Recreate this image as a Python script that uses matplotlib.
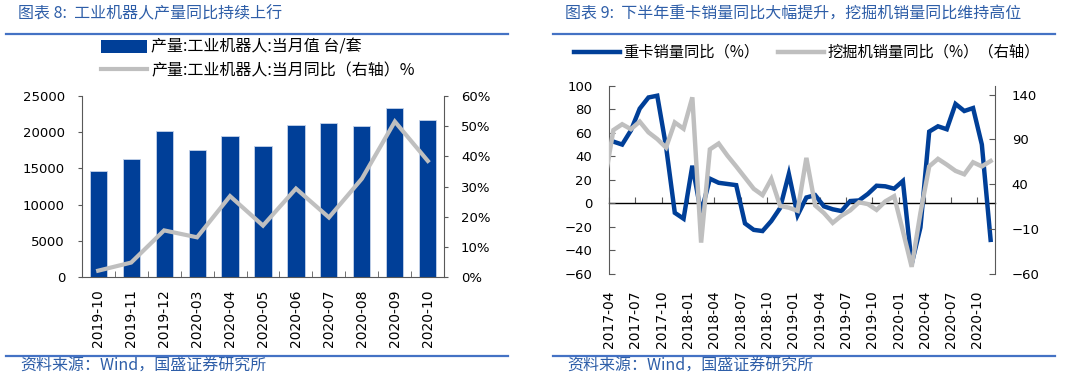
import numpy as np
import pandas as pd
import matplotlib
matplotlib.use('Agg')
import matplotlib.pyplot as plt
from matplotlib.lines import Line2D
from matplotlib.patches import Patch
from matplotlib.ticker import FuncFormatter

CJK = ['Noto Sans CJK SC', 'DejaVu Sans']
plt.rcParams['font.family'] = ['DejaVu Sans']

# ---- data: industrial robot output (left panel) ----------------------------
robot_months = ['2019-10', '2019-11', '2019-12', '2020-03', '2020-04', '2020-05',
                '2020-06', '2020-07', '2020-08', '2020-09', '2020-10']
robot_output = [14650, 16270, 20240, 17510, 19460, 18070, 21030, 21350, 20890, 23430, 21670]
robot_yoy = [2.0, 4.7, 15.4, 13.1, 26.8, 17.0, 29.3, 19.7, 32.6, 51.6, 38.5]

# ---- data: heavy truck / excavator yoy (right panel), 2017-03 .. 2020-11 ----
yoy_months = [str(p) for p in pd.period_range('2017-03', '2020-11', freq='M')]
truck_yoy = [53.5, 52.5, 50, 62, 80.5, 90, 91.5, 48.5, -8, -13,
             32, -8, 21, 17.5, 16.5, 15.5, -17, -22.5, -23.5, -15,
             -4, 25, -10, 5, 7, -2.5, -5, -6.5, 2, 2.5,
             8, 15, 14.5, 12.5, 19, -51.5, -20.5, 61, 65.5, 63,
             84.5, 78.5, 81, 50, -31]
excav_yoy = [43, 100.5, 107, 101.5, 110, 98, 90.5, 81, 109, 102,
             137, -25, 79, 85.5, 72, 60, 47.5, 35, 28, 46,
             16, 14, 10.5, 69.5, 16.5, 8, -3, 5, 11, 20,
             18, 11.5, 21, 26.7, -12, -52, 8, 60, 68.4, 62,
             55, 51.2, 64.6, 60, 66]

BLUE = '#003f98'
GRAY = '#bfbfbf'
AX = '#595959'
TXT_BLUE = '#2e5ea8'
W, H = 1080, 379

fig = plt.figure(figsize=(W/100, H/100), dpi=100)
def box(x0, y0, x1, y1):
    return [x0/W, 1 - y1/H, (x1 - x0)/W, (y1 - y0)/H]

# ---- left panel ------------------------------------------------------------
a = fig.add_axes(box(81.7, 96.3, 444.3, 276.7))
xl = np.arange(len(robot_months))
a.bar(xl, robot_output, width=0.52, color=BLUE, edgecolor='#c5d3ea', lw=0.6, zorder=2)
a.set_xlim(-0.5, len(xl) - 0.5)
a.set_ylim(0, 25000)
a.set_yticks(range(0, 25001, 5000))
a.set_xticks(xl)
a.set_xticklabels(robot_months, rotation=90, fontsize=10)
a.set_xticks(xl[:-1] + 0.5, minor=True)
a.tick_params(axis='x', which='major', length=0, pad=9)
a.tick_params(axis='x', which='minor', direction='in', length=4, color=AX)
a.tick_params(axis='y', direction='out', length=3, color=AX, labelsize=9.5, pad=9)
for s in ('top', 'right'):
    a.spines[s].set_visible(False)
for s in ('left', 'bottom'):
    a.spines[s].set_color(AX)
b = a.twinx()
b.plot(xl, np.array(robot_yoy)/100, color=GRAY, lw=3, solid_joinstyle='miter', zorder=3)
b.set_ylim(0, 0.6)
b.set_yticks(np.arange(0, 0.61, 0.1))
b.yaxis.set_major_formatter(FuncFormatter(lambda v, p: f'{v*100:.0f}%'))
b.tick_params(axis='y', direction='out', length=3, color=AX, labelsize=9.5, pad=9)
for s in ('top', 'left', 'bottom'):
    b.spines[s].set_visible(False)
b.spines['right'].set_color(AX)

fig.legend(handles=[Patch(facecolor=BLUE, edgecolor='none'),
                    Line2D([], [], color=GRAY, lw=3)],
           labels=['产量:工业机器人:当月值 台/套', '产量:工业机器人:当月同比（右轴）%'],
           loc='upper left', bbox_to_anchor=(101/W, 1 - 39/H), frameon=False,
           prop={'family': CJK, 'size': 11.5}, handlelength=2.9, handleheight=0.85,
           handletextpad=0.25, labelspacing=0.4, borderpad=0, borderaxespad=0)

# ---- right panel -----------------------------------------------------------
c = fig.add_axes(box(609, 85.7, 995, 274))
xr = np.arange(len(yoy_months))
c.plot(xr, truck_yoy, color=BLUE, lw=3.2, solid_joinstyle='miter')
c.set_xlim(0.5, len(xr) - 0.5)
c.set_ylim(-60, 100)
c.set_yticks(range(-60, 101, 20))
tick_pos = xr[1::3] - 0.5
c.set_xticks(tick_pos)
c.set_xticklabels(yoy_months[1::3], rotation=90, fontsize=10)
c.tick_params(axis='x', length=0, pad=12)
c.tick_params(axis='y', direction='in', length=4, color=AX, labelsize=9.5, pad=12)
for s in ('top', 'right', 'bottom'):
    c.spines[s].set_visible(False)
c.spines['left'].set_color(AX)
zero = c.secondary_xaxis((0 - c.get_ylim()[0]) / (c.get_ylim()[1] - c.get_ylim()[0]))
zero.set_xticks(tick_pos)
zero.tick_params(direction='in', length=4, color=AX, labelbottom=False)
zero.spines['bottom'].set_color('black')
zero.spines['bottom'].set_linewidth(1)
d = c.twinx()
d.plot(xr, excav_yoy, color=GRAY, lw=3.2, solid_joinstyle='miter')
d.set_ylim(-60, 150)
d.set_yticks(range(-60, 141, 50))
d.tick_params(axis='y', direction='in', length=4, color=AX, labelsize=9.5, pad=12)
for s in ('top', 'left', 'bottom'):
    d.spines[s].set_visible(False)
d.spines['right'].set_color(AX)

fig.legend(handles=[Line2D([], [], color=BLUE, lw=3.2), Line2D([], [], color=GRAY, lw=3.2)],
           labels=['重卡销量同比（%）', '挖掘机销量同比（%）（右轴）'],
           loc='upper left', bbox_to_anchor=(574/W, 1 - 44/H), ncol=2, frameon=False,
           prop={'family': CJK, 'size': 11}, handlelength=3.0, handletextpad=0.25,
           columnspacing=1.2, borderpad=0, borderaxespad=0)

# ---- titles, rules, sources ------------------------------------------------
for x0, x1, tx, title in ((6, 508, 18, '图表 8:  工业机器人产量同比持续上行'),
                          (553, 1055, 565, '图表 9:  下半年重卡销量同比大幅提升，挖掘机销量同比维持高位')):
    fig.text(tx/W, 1 - 14/H, title, color=TXT_BLUE, fontsize=11.5, family=CJK,
             va='center', ha='left')
    for yy in (33.5, 356):
        fig.add_artist(Line2D([x0/W, x1/W], [1 - yy/H, 1 - yy/H], color='#4472c4', lw=1.6))
    fig.text((tx + 2)/W, 1 - 366.5/H, '资料来源：Wind，国盛证券研究所', color=TXT_BLUE,
             fontsize=11.5, family=CJK, va='center', ha='left')

fig.savefig('out.png', dpi=100, facecolor='white')
